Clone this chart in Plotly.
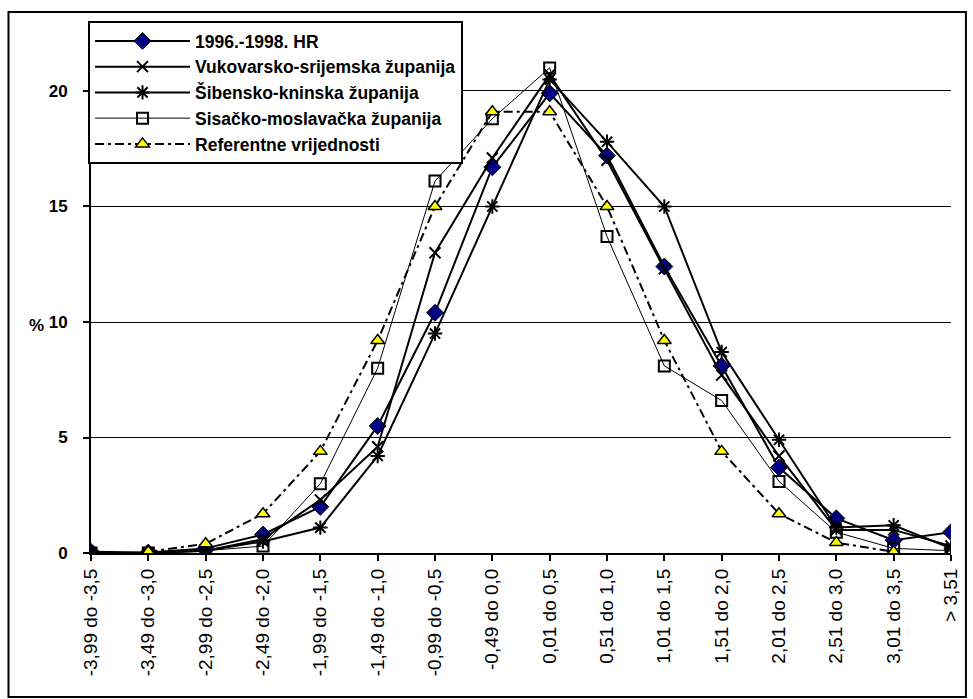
import plotly.graph_objects as go

categories = ["-3,99 do -3,5", "-3,49 do -3,0", "-2,99 do -2,5", "-2,49 do -2,0",
              "-1,99 do -1,5", "-1,49 do -1,0", "-0,99 do -0,5", "-0,49 do 0,0",
              "0,01 do 0,5", "0,51 do 1,0", "1,01 do 1,5", "1,51 do 2,0",
              "2,01 do 2,5", "2,51 do 3,0", "3,01 do 3,5", "> 3,51"]

hr_9698 = [0.05, 0.02, 0.2, 0.8, 2.0, 5.5, 10.4, 16.7, 19.9, 17.2, 12.4, 8.1, 3.7, 1.5, 0.55, 0.9]
vukovarsko = [0.0, 0.0, 0.1, 0.6, 2.3, 4.6, 13.0, 17.1, 20.7, 17.0, 12.3, 7.7, 4.2, 1.0, 1.0, 0.3]
sibensko = [0.0, 0.0, 0.1, 0.5, 1.1, 4.2, 9.5, 15.0, 20.5, 17.8, 15.0, 8.7, 4.9, 1.1, 1.2, 0.2]
sisacko = [0.0, 0.0, 0.1, 0.3, 3.0, 8.0, 16.1, 18.8, 21.0, 13.7, 8.1, 6.6, 3.1, 0.9, 0.2, 0.1]
referentne = [None, 0.05, 0.4, 1.7, 4.4, 9.2, 15.0, 19.1, 19.1, 15.0, 9.2, 4.4, 1.7, 0.45, 0.05, None]

series_names = ["1996.-1998. HR", "Vukovarsko-srijemska županija", "Šibensko-kninska županija",
                "Sisačko-moslavačka županija", "Referentne vrijednosti"]

FONT = "Liberation Sans, Arial, sans-serif"
x_idx = list(range(len(categories)))

fig = go.Figure()
fig.add_trace(go.Scatter(
    x=x_idx, y=hr_9698, name=series_names[0], mode="lines+markers",
    line=dict(color="black", width=2),
    marker=dict(symbol="diamond", size=13, color="#000080", line=dict(color="black", width=1))))
fig.add_trace(go.Scatter(
    x=x_idx, y=vukovarsko, name=series_names[1], mode="lines+markers",
    line=dict(color="black", width=2),
    marker=dict(symbol="x-thin", size=11, color="black", line=dict(color="black", width=2))))
fig.add_trace(go.Scatter(
    x=x_idx, y=sibensko, name=series_names[2], mode="lines+markers",
    line=dict(color="black", width=2),
    marker=dict(symbol="asterisk", size=12, color="black", line=dict(color="black", width=2))))
fig.add_trace(go.Scatter(
    x=x_idx, y=sisacko, name=series_names[3], mode="lines+markers",
    line=dict(color="black", width=1),
    marker=dict(symbol="square-open", size=11, color="black", line=dict(color="black", width=2))))
fig.add_trace(go.Scatter(
    x=x_idx, y=referentne, name=series_names[4], mode="lines+markers",
    line=dict(color="black", width=2, dash="9px,4px,3px,4px"),
    marker=dict(symbol="triangle-up", size=12, color="#FFFF00", line=dict(color="black", width=1.5))))

# plot area geometry (pixels)
W, H = 973, 699
L, R, T, B = 91, 956, 24, 553
pw, ph = R - L, B - T

def px_x(v):
    return (v - L) / pw

def px_y(v):
    return (B - v) / ph

fig.update_layout(
    width=W, height=H,
    margin=dict(l=L, r=W - R, t=T, b=H - B, pad=0),
    paper_bgcolor="white", plot_bgcolor="white",
    font=dict(family=FONT, color="black", size=14),
    showlegend=True,
    legend=dict(
        x=px_x(88), y=px_y(21), xanchor="left", yanchor="top",
        bgcolor="white", bordercolor="black", borderwidth=2,
        font=dict(family=FONT, size=17.5, color="black", weight="bold"),
        itemwidth=95, tracegroupgap=0,
        entrywidth=370, entrywidthmode="pixels",
    ),
    xaxis=dict(
        range=[0, len(categories) - 1],
        tickmode="array", tickvals=x_idx, ticktext=categories,
        tickangle=-90, tickfont=dict(family=FONT, size=19, color="black"),
        ticks="outside", ticklen=6, tickwidth=2, tickcolor="black",
        showline=True, linecolor="black", linewidth=2,
        showgrid=False, zeroline=False, fixedrange=True,
    ),
    yaxis=dict(
        range=[0, 22.9],
        tickmode="array", tickvals=[0, 5, 10, 15, 20], ticktext=["0", "5", "10", "15", "20"],
        tickfont=dict(family=FONT, size=17, color="black", weight="bold"),
        ticks="outside", ticklen=6, tickwidth=2, tickcolor="black",
        ticklabelstandoff=12,
        showline=True, linecolor="black", linewidth=2,
        showgrid=True, gridcolor="black", gridwidth=1,
        zeroline=False, fixedrange=True,
    ),
    annotations=[dict(
        text="%", xref="paper", yref="paper", x=px_x(36), y=px_y(325),
        xanchor="center", yanchor="middle",
        showarrow=False, font=dict(family=FONT, size=17, color="black", weight="bold"),
    )],
    shapes=[dict(
        type="rect", xref="paper", yref="paper",
        x0=px_x(8), x1=px_x(971), y0=px_y(697), y1=px_y(12),
        line=dict(color="black", width=2), fillcolor="rgba(0,0,0,0)", layer="below",
    )],
)

fig.write_html(
    "out.html",
    config={"displayModeBar": False},
    post_script="document.body.style.margin='0px';document.body.style.overflow='hidden';",
)
